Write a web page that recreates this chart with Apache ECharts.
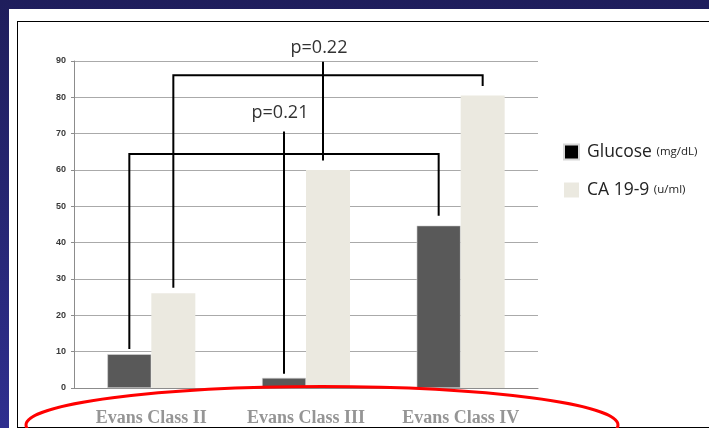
<!DOCTYPE html>
<html>
<head>
<meta charset="utf-8">
<script src="https://cdn.jsdelivr.net/npm/echarts@6/dist/echarts.min.js"></script>
<style>
  html, body { margin: 0; padding: 0; }
  body { width: 709px; height: 428px; overflow: hidden; position: relative;
         background: linear-gradient(180deg, #1f1e5c 0%, #262673 50%, #2f2f8f 100%); }
  #panel { position: absolute; left: 9px; top: 9px; width: 700px; height: 419px; background: #ffffff; }
  #frame { position: absolute; left: 17px; top: 21px; width: 700px; height: 405px; border: 1.5px solid #000; box-sizing: content-box; }
  #chart { position: absolute; left: 0; top: 0; width: 709px; height: 428px; }
</style>
</head>
<body>
<div id="panel"></div>
<div id="frame"></div>
<div id="chart"></div>
<script>
// ---- data ----
const categories = ['Evans Class II', 'Evans Class III', 'Evans Class IV'];
const glucose = [9.3, 2.8, 44.7];
const ca199 = [26.1, 60.0, 80.5];
const yMin = 0, yMax = 90, yStep = 10;

// significance brackets (values on the y scale)
const pLabels = ['p=0.21', 'p=0.22'];
const pSeries = [0, 1];          // 0 = Glucose bars, 1 = CA 19-9 bars
const pFrom = [0, 0];            // category index of left leg
const pTo = [2, 2];              // category index of right leg
const pMid = [1, 1];             // category index of stem
const pBar = [64.4, 86.1];       // horizontal bar level
const pLegFrom = [10.7, 27.6];   // left leg bottom
const pLegTo = [47.4, 83.1];     // right leg bottom
const pStemTop = [70.6, 89.8];
const pStemBottom = [3.9, 62.6];
const pLabelY = [75.7, 93.6];

const chart = echarts.init(document.getElementById('chart'), null, { renderer: 'canvas' });
const BAR_W = 44;
const stemShift = [0, -5];

const option = {
  backgroundColor: 'transparent',
  animation: false,
  grid: { left: 74, right: 171, top: 61, bottom: 40, containLabel: false, outerBoundsMode: 'none' },
  legend: {
    orient: 'vertical',
    left: 563, top: 143,
    padding: 0,
    itemWidth: 15, itemHeight: 15, itemGap: 20,
    icon: 'rect',
    data: [
      { name: 'Glucose', itemStyle: { color: '#000000' } },
      { name: 'CA 19-9', itemStyle: { color: '#ebe9e0' } }
    ],
    formatter: function (name) {
      return name === 'Glucose' ? '{a|Glucose }{b|(mg/dL)}' : '{a|CA 19-9 }{b|(u/ml)}';
    },
    textStyle: {
      padding: [0, 0, 0, 3],
      rich: {
        a: { fontFamily: 'Open Sans', fontSize: 17.5, color: '#222', lineHeight: 20 },
        b: { fontFamily: 'Open Sans', fontSize: 11.5, color: '#222', lineHeight: 20 }
      }
    }
  },
  xAxis: {
    type: 'category',
    data: categories,
    axisLine: { show: true, lineStyle: { color: '#8c8c8c', width: 1 } },
    axisTick: { show: false },
    axisLabel: { margin: 21, fontFamily: 'Liberation Serif', fontWeight: 'bold', fontSize: 18, color: '#959595' }
  },
  yAxis: {
    type: 'value', min: yMin, max: yMax, interval: yStep,
    axisLine: { show: true, lineStyle: { color: '#8c8c8c', width: 1 } },
    axisTick: { show: true, length: 3, lineStyle: { color: '#8c8c8c' } },
    axisLabel: { margin: 8, fontFamily: 'Liberation Sans', fontWeight: 'bold', fontSize: 9, color: '#3a3a3a' },
    splitLine: { show: true, lineStyle: { color: '#aaaaaa', width: 1 } }
  },
  series: [
    { name: 'Glucose', type: 'bar', data: glucose, barWidth: BAR_W, barGap: '0%',
      itemStyle: { color: '#595959', borderColor: '#d8d8d8', borderWidth: 0.6 } },
    { name: 'CA 19-9', type: 'bar', data: ca199, barWidth: BAR_W, barGap: '0%',
      itemStyle: { color: '#ebe9e0' } },
    {
      name: 'brackets', type: 'custom', z: 10, silent: true,
      data: pLabels.map(function (l, i) { return [pMid[i], pBar[i]]; }),
      renderItem: function (params, api) {
        const i = params.dataIndex;
        const side = pSeries[i] === 0 ? -BAR_W / 2 : BAR_W / 2;
        const cx = function (c) { return api.coord([c, 0])[0] + side; };
        const cy = function (v) { return api.coord([0, v])[1]; };
        const xL = cx(pFrom[i]), xR = cx(pTo[i]), xS = cx(pMid[i]) + stemShift[i];
        const stroke = { stroke: '#000', lineWidth: 2, fill: null };
        return {
          type: 'group',
          children: [
            { type: 'polyline', shape: { points: [[xL, cy(pLegFrom[i])], [xL, cy(pBar[i])], [xR, cy(pBar[i])], [xR, cy(pLegTo[i])]] }, style: stroke },
            { type: 'line', shape: { x1: xS, y1: cy(pStemTop[i]), x2: xS, y2: cy(pStemBottom[i]) }, style: stroke },
            { type: 'text', x: xS - 4, y: cy(pLabelY[i]),
              style: { text: pLabels[i], align: 'center', verticalAlign: 'middle',
                       fontFamily: 'Open Sans', fontSize: 18, fill: '#333' } }
          ]
        };
      }
    }
  ],
  graphic: [
    { type: 'ellipse', z: 100, silent: true,
      shape: { cx: 322, cy: 425, rx: 296, ry: 38.5 },
      style: { fill: null, stroke: '#ff0000', lineWidth: 3 } }
  ]
};
chart.setOption(option);
</script>
</body>
</html>
